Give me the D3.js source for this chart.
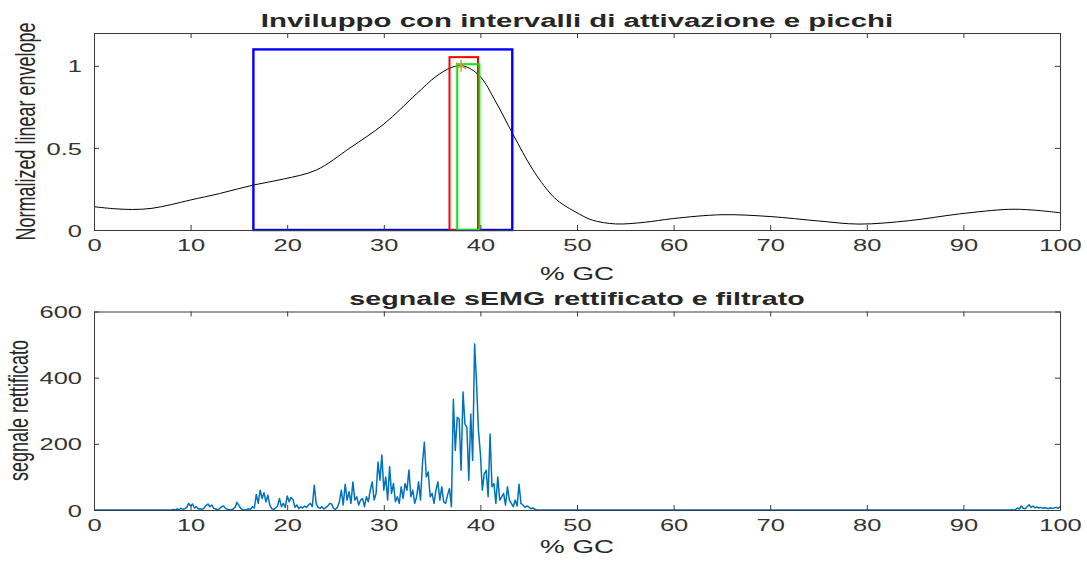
<!DOCTYPE html>
<html>
  <head>
    <meta charset="utf-8" />
    <script src="https://cdn.jsdelivr.net/npm/d3@7/dist/d3.min.js"></script>
    <style>
      body { margin: 0; background: #fff; }
      text { font-family: "Liberation Sans", Arial, Helvetica, sans-serif; fill: #262626; }
    </style>
  </head>
  <body>
    <script type="text/javascript">

      // --- top plot: normalized linear envelope ---
      var envX = [0, 2, 4, 6, 8, 10, 13, 16.5, 19.6, 23, 26.5, 30, 33.4, 35.4, 37, 38.2, 39.9, 41.6, 43.4, 45.4,
                  47.2, 48.2, 50.3, 51.6, 54, 57, 60, 65, 70, 75, 79.2, 84.4, 89.6, 94.7, 97.1, 100];
      var envY = [0.142, 0.13, 0.125, 0.132, 0.155, 0.183, 0.222, 0.274, 0.31, 0.365, 0.5, 0.645, 0.83, 0.935, 0.99, 1.0, 0.94, 0.78, 0.58, 0.37,
                  0.225, 0.17, 0.095, 0.06, 0.037, 0.047, 0.07, 0.093, 0.082, 0.055, 0.036, 0.057, 0.098, 0.126, 0.122, 0.105];

      // activation intervals (blue, red, green boxes) and the peak
      var intStart = [16.5, 36.8, 37.6];
      var intEnd   = [43.3, 39.75, 39.9];
      var intTop   = [1.10, 1.053, 1.01];
      var peakX = [38.0];
      var peakY = [1.0];

      // --- bottom plot: rectified sEMG, two active stretches sampled every 0.2 % GC ---
      var emgStep = 0.2;
      var emgStartA = 8.0;
      var emgA = [0, 2, 0, 3, 1, 5, 2, 4, 8, 20, 12, 18, 6, 10, 3, 4, 2, 6, 14, 18,
                  10, 15, 5, 3, 1, 4, 10, 12, 5, 2, 1, 0, 3, 8, 23, 14, 4, 1, 0, 2,
                  4, 2, 10, 6, 47, 20, 60, 35, 52, 25, 45, 15, 4, 2, 6, 12, 35, 10, 20, 8,
                  42, 25, 38, 32, 8, 15, 4, 10, 6, 12, 8, 15, 20, 10, 75, 20, 8, 5, 10, 3,
                  8, 12, 20, 18, 5, 2, 8, 25, 60, 15, 78, 30, 55, 20, 85, 30, 40, 15, 30, 35,
                  10, 40, 25, 60, 85, 30, 50, 145, 90, 166, 60, 100, 30, 131, 50, 80, 25, 40, 20, 70,
                  35, 80, 60, 121, 40, 60, 20, 40, 85, 30, 140, 205, 100, 115, 40, 50, 20, 60, 85, 30,
                  70, 25, 20, 45, 65, 10, 335, 180, 280, 275, 120, 357, 260, 250, 90, 290, 150, 502, 385, 240,
                  170, 60, 110, 120, 40, 230, 70, 80, 20, 100, 30, 40, 50, 15, 70, 30, 20, 10, 30, 12,
                  78, 20, 15, 8, 12, 10, 4, 6, 3, 1, 0];
      var emgStartB = 94.8;
      var emgB = [0, 1, 0, 2, 6, 3, 12, 5, 4, 10, 16, 8, 12, 7, 9, 6, 8, 5, 7, 6,
                  4, 7, 5, 6, 8, 5, 10];

      var xTicks = [0, 10, 20, 30, 40, 50, 60, 70, 80, 90, 100];
      var envTicks = [0, 0.5, 1];
      var emgTicks = [0, 200, 400, 600];

      var width = 1087, height = 563;
      var SX = 1.5;   // the figure was stretched sideways, text too

      var svg = d3.select("body").append("svg")
        .attr("width", width)
        .attr("height", height);

      var x1 = d3.scaleLinear().domain([0, 100]).range([94, 1060]);
      var y1 = d3.scaleLinear().domain([0, 1.2]).range([230, 33]);
      var x2 = d3.scaleLinear().domain([0, 100]).range([94, 1060]);
      var y2 = d3.scaleLinear().domain([0, 600]).range([510, 311.5]);

      function wideText(g, x, y, str, size, bold, sx) {
        return g.append("text")
          .attr("transform", "translate(" + x + "," + y + ") scale(" + (sx || SX) + ",1)")
          .attr("text-anchor", "middle")
          .attr("font-size", size)
          .attr("font-weight", bold ? "bold" : null)
          .text(str);
      }

      function yLabel(g, x, y, str) {
        return g.append("text")
          .attr("transform", "translate(" + x + "," + y + ") rotate(-90) scale(1," + SX + ")")
          .attr("text-anchor", "middle")
          .attr("font-size", 18)
          .text(str);
      }

      function axes(g, x, y, yTicks) {
        var x0 = x.range()[0], xR = x.range()[1];
        var yB = y.range()[0], yT = y.range()[1];

        g.append("g")
          .attr("transform", "translate(0," + yB + ")")
          .call(d3.axisBottom(x).tickValues(xTicks).tickSizeInner(-5).tickSizeOuter(0).tickPadding(0))
          .call(function(s) {
            s.selectAll(".tick text")
              .attr("y", null).attr("dy", null)
              .attr("font-size", 17)
              .attr("transform", "translate(0,21) scale(" + SX + ",1)");
          });

        g.append("g")
          .attr("transform", "translate(0," + yT + ")")
          .call(d3.axisTop(x).tickValues(xTicks).tickFormat("").tickSizeInner(-5).tickSizeOuter(0));

        g.append("g")
          .attr("transform", "translate(" + x0 + ",0)")
          .call(d3.axisLeft(y).tickValues(yTicks).tickFormat(function(d) { return String(d); })
                  .tickSizeInner(-5).tickSizeOuter(0).tickPadding(0))
          .call(function(s) {
            s.selectAll(".tick text")
              .attr("x", null).attr("dy", "0.36em")
              .attr("font-size", 17)
              .attr("transform", "translate(-12,0) scale(" + SX + ",1)");
          });

        g.append("g")
          .attr("transform", "translate(" + xR + ",0)")
          .call(d3.axisRight(y).tickValues(yTicks).tickFormat("").tickSizeInner(-5).tickSizeOuter(0));

        g.selectAll("g").attr("color", "#3a3a3a").attr("font-family", null).attr("font-size", null);
        g.selectAll(".domain, .tick line").attr("stroke-width", 1);
        g.selectAll(".tick text").style("fill", "#333");
      }

      // ---------- top plot ----------
      var topPlot = svg.append("g").attr("class", "top-plot");

      var env = envX.map(function(d, i) { return [d, envY[i]]; });

      topPlot.append("path")
        .datum(env)
        .attr("fill", "none")
        .attr("stroke", "#000")
        .attr("stroke-width", 1)
        .attr("d", d3.line()
          .x(function(d) { return x1(d[0]); })
          .y(function(d) { return y1(d[1]); })
          .curve(d3.curveCatmullRom.alpha(0.5)));

      var boxColor = ["#0000FF", "#FF0000", "#00EE00"];
      var boxWidth = [2.4, 2, 2];
      topPlot.selectAll("rect.interval")
        .data(intStart)
        .enter()
        .append("rect")
        .attr("class", "interval")
        .attr("x", function(d) { return x1(d); })
        .attr("y", function(d, i) { return y1(intTop[i]); })
        .attr("width", function(d, i) { return x1(intEnd[i]) - x1(d); })
        .attr("height", function(d, i) { return y1(0) - y1(intTop[i]); })
        .attr("fill", "none")
        .attr("stroke", function(d, i) { return boxColor[i]; })
        .attr("stroke-width", function(d, i) { return boxWidth[i]; });

      axes(topPlot, x1, y1, envTicks);

      var star = d3.symbol().type(d3.symbolAsterisk || d3.symbolCross).size(100);
      topPlot.selectAll("path.peak")
        .data(peakX)
        .enter()
        .append("path")
        .attr("class", "peak")
        .attr("transform", function(d, i) { return "translate(" + x1(d) + "," + y1(peakY[i]) + ")"; })
        .attr("d", star)
        .attr("fill", "none")
        .attr("stroke", "#B8A030")
        .attr("stroke-width", 1.3);

      wideText(topPlot, 577, 27, "Inviluppo con intervalli di attivazione e picchi", 18.5, true, 1.59);
      wideText(topPlot, 577, 280, "% GC", 18.5, false);
      yLabel(topPlot, 35, 131.5, "Normalized linear envelope");

      // ---------- bottom plot ----------
      var botPlot = svg.append("g").attr("class", "bottom-plot");

      var emg = [[0, 0]];
      emgA.forEach(function(v, i) { emg.push([emgStartA + i * emgStep, v]); });
      emgB.forEach(function(v, i) { emg.push([emgStartB + i * emgStep, v]); });

      botPlot.append("path")
        .datum(emg)
        .attr("fill", "none")
        .attr("stroke", "#0072BD")
        .attr("stroke-width", 1.5)
        .attr("stroke-linejoin", "round")
        .attr("d", d3.line()
          .x(function(d) { return x2(d[0]); })
          .y(function(d) { return y2(d[1]); }));

      axes(botPlot, x2, y2, emgTicks);

      wideText(botPlot, 577, 305, "segnale sEMG rettificato e filtrato", 18.5, true, 1.55);
      wideText(botPlot, 577, 553, "% GC", 18.5, false);
      yLabel(botPlot, 27.5, 410.5, "segnale rettificato");

    </script>
  </body>
</html>
